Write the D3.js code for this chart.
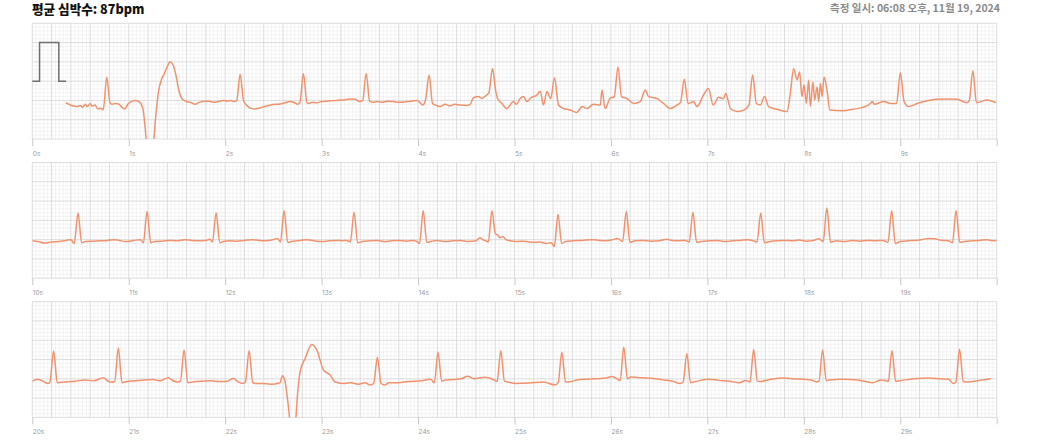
<!DOCTYPE html>
<html><head><meta charset="utf-8">
<script src="https://cdn.jsdelivr.net/npm/d3@7"></script>
<style>
html,body{margin:0;padding:0;background:#fff;}
svg{display:block;font-family:"Noto Sans CJK KR","Noto Sans",sans-serif;}
</style></head><body>
<svg id="chart" width="1040" height="442"></svg>
<script>
// ---- data (seconds, mV) ----
const titleText = "평균 심박수: 87bpm";
const dateText = "측정 일시: 06:08 오후, 11월 19, 2024";
const stripStarts = [0, 10, 20];
const tickSeconds = [0,1,2,3,4,5,6,7,8,9,10];
const calibration = [[0,0],[0.075,0],[0.075,1],[0.275,1],[0.275,0],[0.35,0]];

const strip1 = [[0.35,-0.56],[0.38,-0.6],[0.42,-0.64],[0.46,-0.66],[0.5,-0.63],[0.52,-0.68],[0.55,-0.6],[0.57,-0.66],[0.6,-0.58],[0.62,-0.65],[0.65,-0.62],[0.68,-0.72],[0.71,-0.7],[0.736,-0.74],[0.772,0.1],[0.806,-0.56],[0.83,-0.6],[0.86,-0.58],[0.9,-0.6],[0.93,-0.68],[0.96,-0.72],[0.99,-0.6],[1.02,-0.54],[1.06,-0.5],[1.1,-0.52],[1.13,-0.6],[1.15,-0.75],[1.17,-1.2],[1.19,-1.7],[1.25,-1.7],[1.28,-0.9],[1.31,-0.25],[1.34,0.05],[1.37,0.2],[1.4,0.38],[1.43,0.5],[1.46,0.42],[1.49,0.15],[1.52,-0.25],[1.55,-0.45],[1.59,-0.52],[1.64,-0.55],[1.69,-0.6],[1.73,-0.55],[1.79,-0.52],[1.84,-0.52],[1.88,-0.55],[1.93,-0.53],[1.98,-0.5],[2.02,-0.52],[2.06,-0.5],[2.09,-0.53],[2.12,-0.5],[2.155,0.18],[2.19,-0.5],[2.22,-0.62],[2.26,-0.7],[2.3,-0.72],[2.35,-0.7],[2.38,-0.68],[2.42,-0.65],[2.47,-0.62],[2.52,-0.6],[2.57,-0.59],[2.62,-0.56],[2.67,-0.53],[2.72,-0.56],[2.75,-0.6],[2.775,-0.55],[2.811,0.2],[2.848,-0.56],[2.87,-0.58],[2.9,-0.55],[2.95,-0.56],[3.0,-0.53],[3.05,-0.52],[3.1,-0.51],[3.15,-0.5],[3.2,-0.49],[3.25,-0.48],[3.3,-0.46],[3.35,-0.47],[3.39,-0.53],[3.426,-0.5],[3.462,0.2],[3.498,-0.52],[3.53,-0.55],[3.58,-0.53],[3.63,-0.55],[3.68,-0.52],[3.74,-0.53],[3.8,-0.55],[3.86,-0.54],[3.92,-0.52],[3.99,-0.5],[4.05,-0.62],[4.08,-0.45],[4.115,0.16],[4.15,-0.58],[4.18,-0.62],[4.23,-0.66],[4.28,-0.6],[4.33,-0.64],[4.38,-0.6],[4.44,-0.62],[4.5,-0.63],[4.54,-0.6],[4.575,-0.43],[4.627,-0.4],[4.66,-0.45],[4.7,-0.38],[4.735,-0.3],[4.772,0.33],[4.805,-0.25],[4.825,-0.45],[4.87,-0.58],[4.92,-0.71],[4.99,-0.53],[5.02,-0.6],[5.059,-0.45],[5.094,-0.4],[5.129,-0.53],[5.17,-0.43],[5.232,-0.36],[5.267,-0.26],[5.3,-0.62],[5.336,-0.27],[5.375,-0.45],[5.415,0.09],[5.456,-0.62],[5.508,-0.71],[5.578,-0.75],[5.647,-0.81],[5.7,-0.66],[5.75,-0.71],[5.82,-0.6],[5.89,-0.62],[5.907,-0.23],[5.94,-0.71],[5.99,-0.45],[6.035,-0.4],[6.073,0.37],[6.11,-0.4],[6.166,-0.45],[6.234,-0.58],[6.304,-0.53],[6.356,-0.23],[6.39,-0.4],[6.477,-0.45],[6.546,-0.58],[6.615,-0.71],[6.685,-0.62],[6.722,-0.55],[6.76,0.05],[6.8,-0.58],[6.857,-0.53],[6.892,-0.66],[6.96,-0.36],[7.012,-0.19],[7.06,-0.62],[7.116,-0.42],[7.168,-0.45],[7.19,-0.32],[7.24,-0.71],[7.307,-0.79],[7.376,-0.75],[7.431,-0.62],[7.469,0.16],[7.508,-0.58],[7.549,-0.62],[7.593,-0.4],[7.635,-0.66],[7.722,-0.73],[7.826,-0.79],[7.86,-0.32],[7.894,0.33],[7.93,0.03],[7.956,0.24],[7.98,-0.4],[8.003,-0.1],[8.026,-0.58],[8.05,0.03],[8.068,-0.66],[8.095,-0.02],[8.112,-0.49],[8.137,-0.15],[8.154,-0.53],[8.172,-0.06],[8.19,-0.4],[8.21,0.11],[8.24,-0.23],[8.27,-0.75],[8.404,-0.77],[8.508,-0.73],[8.61,-0.68],[8.69,-0.58],[8.71,-0.53],[8.73,-0.6],[8.83,-0.53],[8.9,-0.58],[8.962,-0.58],[9.0,0.22],[9.04,-0.53],[9.087,-0.66],[9.175,-0.58],[9.28,-0.51],[9.37,-0.47],[9.48,-0.46],[9.59,-0.47],[9.69,-0.56],[9.716,-0.5],[9.753,0.27],[9.79,-0.56],[9.9,-0.49],[9.99,-0.56]];

const strip2 = [[0,-0.53],[0.06,-0.55],[0.13,-0.59],[0.2,-0.56],[0.28,-0.55],[0.35,-0.52],[0.4,-0.5],[0.435,-0.6],[0.474,0.19],[0.512,-0.58],[0.55,-0.55],[0.62,-0.54],[0.7,-0.53],[0.78,-0.52],[0.85,-0.5],[0.9,-0.52],[0.97,-0.55],[1.05,-0.52],[1.12,-0.5],[1.152,-0.58],[1.19,0.23],[1.228,-0.58],[1.27,-0.55],[1.35,-0.54],[1.42,-0.52],[1.5,-0.53],[1.58,-0.5],[1.65,-0.52],[1.72,-0.53],[1.8,-0.52],[1.84,-0.49],[1.868,-0.56],[1.906,0.2],[1.944,-0.58],[1.98,-0.55],[2.05,-0.53],[2.12,-0.54],[2.2,-0.52],[2.28,-0.5],[2.35,-0.52],[2.42,-0.53],[2.5,-0.5],[2.54,-0.47],[2.573,-0.56],[2.611,0.25],[2.649,-0.57],[2.7,-0.54],[2.78,-0.52],[2.85,-0.5],[2.92,-0.53],[3.0,-0.55],[3.08,-0.53],[3.15,-0.52],[3.22,-0.53],[3.26,-0.52],[3.298,-0.56],[3.336,0.21],[3.374,-0.58],[3.42,-0.55],[3.5,-0.53],[3.58,-0.52],[3.65,-0.55],[3.72,-0.53],[3.8,-0.52],[3.88,-0.54],[3.95,-0.52],[3.99,-0.55],[4.015,-0.6],[4.053,0.25],[4.091,-0.57],[4.14,-0.54],[4.2,-0.52],[4.28,-0.55],[4.36,-0.53],[4.44,-0.52],[4.52,-0.55],[4.6,-0.53],[4.64,-0.45],[4.67,-0.5],[4.7,-0.53],[4.728,-0.56],[4.766,0.25],[4.802,-0.35],[4.825,-0.38],[4.85,-0.45],[4.88,-0.42],[4.91,-0.5],[4.95,-0.53],[5.02,-0.55],[5.1,-0.54],[5.18,-0.57],[5.26,-0.56],[5.33,-0.6],[5.38,-0.58],[5.413,-0.68],[5.451,0.16],[5.489,-0.6],[5.53,-0.55],[5.6,-0.53],[5.7,-0.52],[5.8,-0.5],[5.88,-0.52],[5.95,-0.53],[6.02,-0.5],[6.07,-0.47],[6.121,-0.55],[6.159,0.23],[6.197,-0.57],[6.25,-0.53],[6.33,-0.52],[6.42,-0.54],[6.5,-0.53],[6.58,-0.49],[6.63,-0.52],[6.7,-0.53],[6.77,-0.52],[6.812,-0.56],[6.85,0.21],[6.888,-0.57],[6.95,-0.54],[7.02,-0.53],[7.1,-0.52],[7.18,-0.55],[7.26,-0.53],[7.34,-0.52],[7.42,-0.5],[7.475,-0.53],[7.515,-0.56],[7.553,0.19],[7.591,-0.58],[7.65,-0.55],[7.72,-0.53],[7.8,-0.52],[7.88,-0.53],[7.95,-0.51],[8.02,-0.54],[8.1,-0.52],[8.155,-0.48],[8.201,-0.55],[8.239,0.32],[8.277,-0.57],[8.34,-0.53],[8.42,-0.55],[8.5,-0.52],[8.58,-0.54],[8.66,-0.52],[8.74,-0.53],[8.82,-0.52],[8.873,-0.57],[8.911,0.25],[8.949,-0.6],[9.0,-0.55],[9.08,-0.53],[9.15,-0.52],[9.22,-0.5],[9.3,-0.47],[9.36,-0.48],[9.43,-0.52],[9.5,-0.53],[9.541,-0.58],[9.579,0.25],[9.617,-0.57],[9.68,-0.54],[9.75,-0.53],[9.82,-0.52],[9.9,-0.5],[9.96,-0.53],[10.0,-0.52]];

const strip3 = [[0,-0.56],[0.06,-0.51],[0.13,-0.59],[0.16,-0.62],[0.183,-0.58],[0.221,0.22],[0.259,-0.6],[0.29,-0.59],[0.35,-0.58],[0.45,-0.56],[0.547,-0.53],[0.64,-0.55],[0.737,-0.47],[0.78,-0.55],[0.82,-0.59],[0.854,-0.57],[0.892,0.29],[0.93,-0.6],[0.98,-0.57],[1.07,-0.55],[1.16,-0.53],[1.25,-0.52],[1.33,-0.55],[1.41,-0.47],[1.46,-0.55],[1.51,-0.58],[1.536,-0.56],[1.574,0.25],[1.612,-0.6],[1.66,-0.58],[1.75,-0.56],[1.85,-0.55],[1.95,-0.57],[2.02,-0.56],[2.085,-0.49],[2.13,-0.57],[2.18,-0.62],[2.21,-0.58],[2.248,0.23],[2.286,-0.6],[2.31,-0.62],[2.38,-0.62],[2.47,-0.64],[2.57,-0.6],[2.593,-0.42],[2.62,-0.56],[2.65,-1.1],[2.68,-1.7],[2.725,-1.7],[2.75,-0.9],[2.777,-0.32],[2.829,0.03],[2.898,0.39],[2.95,0.25],[3.019,-0.27],[3.088,-0.4],[3.14,-0.58],[3.244,-0.62],[3.3,-0.6],[3.382,-0.64],[3.451,-0.6],[3.503,-0.66],[3.54,-0.62],[3.578,0.06],[3.616,-0.62],[3.655,-0.66],[3.7,-0.6],[3.79,-0.6],[3.9,-0.57],[4.037,-0.55],[4.13,-0.51],[4.169,-0.6],[4.207,0.19],[4.245,-0.56],[4.28,-0.53],[4.36,-0.52],[4.45,-0.5],[4.513,-0.43],[4.58,-0.5],[4.696,-0.46],[4.79,-0.53],[4.82,-0.57],[4.858,0.23],[4.896,-0.56],[4.93,-0.58],[5.015,-0.62],[5.15,-0.61],[5.3,-0.58],[5.42,-0.66],[5.453,-0.6],[5.491,0.19],[5.529,-0.58],[5.56,-0.58],[5.65,-0.53],[5.737,-0.51],[5.85,-0.5],[5.95,-0.48],[6.01,-0.44],[6.065,-0.5],[6.095,-0.55],[6.133,0.32],[6.171,-0.5],[6.205,-0.45],[6.29,-0.47],[6.376,-0.48],[6.46,-0.5],[6.55,-0.53],[6.64,-0.56],[6.716,-0.62],[6.749,-0.58],[6.787,0.16],[6.825,-0.6],[6.86,-0.58],[6.93,-0.54],[7.01,-0.51],[7.12,-0.54],[7.23,-0.56],[7.33,-0.6],[7.4,-0.54],[7.442,-0.58],[7.48,0.26],[7.518,-0.56],[7.545,-0.57],[7.66,-0.51],[7.778,-0.48],[7.9,-0.5],[8.076,-0.53],[8.13,-0.58],[8.157,-0.56],[8.195,0.25],[8.233,-0.55],[8.26,-0.53],[8.4,-0.51],[8.56,-0.53],[8.713,-0.6],[8.8,-0.53],[8.876,-0.56],[8.914,0.23],[8.952,-0.56],[8.99,-0.55],[9.14,-0.5],[9.3,-0.48],[9.42,-0.5],[9.5,-0.51],[9.55,-0.62],[9.577,-0.58],[9.615,0.27],[9.653,-0.57],[9.69,-0.58],[9.82,-0.54],[9.94,-0.49]];

const strips = [strip1, strip2, strip3];

// ---- layout ----
const svg = d3.select("#chart");
const left = 32.3, width = 964.4, stripH = 115.7;
const tops = [23.3, 162.5, 301.7];
const x = d3.scaleLinear().domain([0, 10]).range([left, left + width]);

svg.append("text").attr("x", 32).attr("y", 14)
  .attr("font-size", 12.6).attr("font-weight", 800).attr("fill", "#111")
  .text(titleText);
svg.append("text").attr("x", 1000).attr("y", 11.5).attr("text-anchor", "end")
  .attr("font-size", 10.5).attr("font-weight", 600).attr("fill", "#8a8a8a")
  .text(dateText);

strips.forEach((data, i) => {
  const top = tops[i];
  const y = d3.scaleLinear().domain([-1.5, 1.5]).range([top + stripH, top]);
  const g = svg.append("g");

  // grid
  const minorX = d3.range(0, 251).map(k => k * 0.04);
  const minorY = d3.range(0, 31).map(k => -1.5 + k * 0.1);
  g.selectAll(".mx").data(minorX.filter((d, k) => k % 5 !== 0)).join("line")
    .attr("x1", d => x(d)).attr("x2", d => x(d)).attr("y1", top).attr("y2", top + stripH)
    .attr("stroke", "#ececec").attr("stroke-width", 0.6);
  g.selectAll(".my").data(minorY.filter((d, k) => k % 5 !== 0)).join("line")
    .attr("x1", x(0)).attr("x2", x(10)).attr("y1", d => y(d)).attr("y2", d => y(d))
    .attr("stroke", "#ececec").attr("stroke-width", 0.6);
  g.selectAll(".Mx").data(minorX.filter((d, k) => k % 5 === 0)).join("line")
    .attr("x1", d => x(d)).attr("x2", d => x(d)).attr("y1", top).attr("y2", top + stripH)
    .attr("stroke", "#d4d4d4").attr("stroke-width", 0.8);
  g.selectAll(".My").data(minorY.filter((d, k) => k % 5 === 0)).join("line")
    .attr("x1", x(0)).attr("x2", x(10)).attr("y1", d => y(d)).attr("y2", d => y(d))
    .attr("stroke", "#d4d4d4").attr("stroke-width", 0.8);

  // axis
  const off = stripStarts[i];
  const ax = g.append("g").attr("transform", `translate(0,${top + stripH})`)
    .call(d3.axisBottom(x).tickValues(tickSeconds).tickSize(7).tickSizeOuter(0)
      .tickFormat(d => d < 10 ? (off + d) + "s" : ""));
  ax.select(".domain").remove();
  ax.selectAll(".tick line").attr("stroke", "#c8c8c8");
  ax.selectAll(".tick text").attr("text-anchor", "start").attr("y", 12)
    .attr("font-size", 6.5).attr("fill", "#9a9a9a")
    .attr("font-family", "Inter, 'Noto Sans', sans-serif");

  // clip
  const cid = "clip" + i;
  svg.append("clipPath").attr("id", cid).append("rect")
    .attr("x", x(0)).attr("y", top).attr("width", width).attr("height", stripH);

  if (i === 0) {
    const calLine = d3.line().x(d => x(d[0])).y(d => y(d[1]));
    g.append("path").datum(calibration).attr("d", calLine)
      .attr("fill", "none").attr("stroke", "#707070").attr("stroke-width", 1.5);
  }
  const line = d3.line().curve(d3.curveMonotoneX).x(d => x(d[0])).y(d => y(d[1]));
  g.append("path").datum(data).attr("d", line).attr("clip-path", `url(#${cid})`)
    .attr("fill", "none").attr("stroke", "#f1926f").attr("stroke-width", 1.5)
    .attr("stroke-linejoin", "round");
});
</script>
</body></html>
